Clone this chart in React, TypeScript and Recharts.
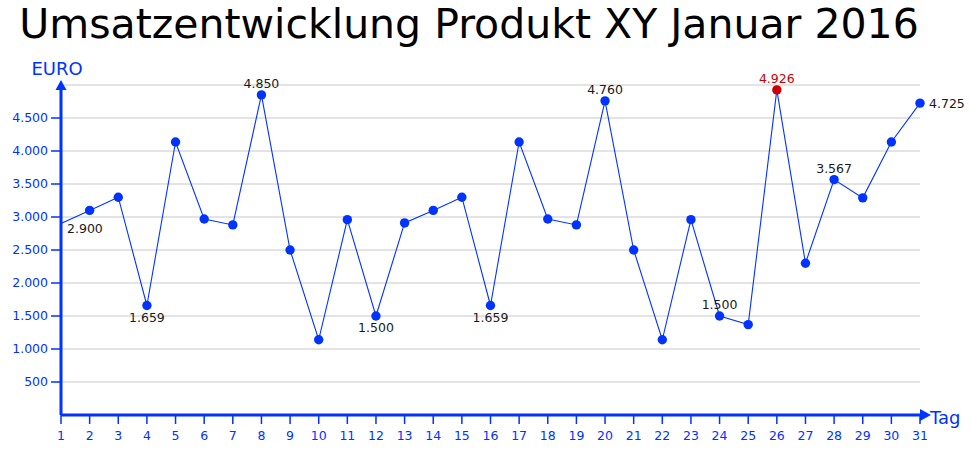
import React from 'react';
import { LineChart, Line, XAxis, YAxis, CartesianGrid, ReferenceDot, LabelList } from 'recharts';

const days = [1, 2, 3, 4, 5, 6, 7, 8, 9, 10, 11, 12, 13, 14, 15, 16, 17, 18, 19, 20, 21, 22, 23, 24, 25, 26, 27, 28, 29, 30, 31];
const revenue = [2900, 3100, 3300, 1659, 4136, 2970, 2880, 4850, 2500, 1140, 2960, 1500, 2910, 3100, 3300, 1659, 4136, 2970, 2880, 4760, 2500, 1140, 2960, 1500, 1370, 4926, 2300, 3567, 3290, 4136, 4725];
const yTicks = [500, 1000, 1500, 2000, 2500, 3000, 3500, 4000, 4500];
const labeledDays = [1, 4, 8, 12, 16, 20, 24, 26, 28, 31];
const highlightDay = 26;

const TITLE = 'Umsatzentwicklung Produkt XY Januar 2016';
const Y_TITLE = 'EURO';
const X_TITLE = 'Tag';

const BLUE = '#0033ff';
const RED = '#cc0000';
const FONT = '"DejaVu Sans", Verdana, sans-serif';

const labelPlacement: Record<number, string> = {
  1: 'belowRight', 4: 'below', 8: 'above', 12: 'below', 16: 'below',
  20: 'above', 24: 'above', 26: 'above', 28: 'above', 31: 'right',
};

const chartData = days.map((d, i) => ({ day: d, umsatz: revenue[i] }));

const fmt = (v: number) => String(v).replace(/\B(?=(\d{3})+(?!\d))/g, '.');

const renderDot = (p: any) => {
  const { cx, cy, payload, index } = p;
  if (index === 0) return <g key={`d${index}`} />;
  const fill = payload.day === highlightDay ? RED : BLUE;
  return <circle key={`d${index}`} cx={cx} cy={cy} r={4.7} fill={fill} stroke="none" />;
};

const renderLabel = (p: any) => {
  const { x, y, index } = p;
  const d = days[index];
  if (!labeledDays.includes(d)) return null;
  const place = labelPlacement[d];
  let tx = x, ty = y, anchor: any = 'middle';
  if (place === 'above') { ty = y - 7; }
  else if (place === 'below') { ty = y + 16; }
  else if (place === 'right') { tx = x + 9; ty = y + 4.5; anchor = 'start'; }
  else if (place === 'belowRight') { tx = x + 6; ty = y + 9.5; anchor = 'start'; }
  return (
    <text key={`l${index}`} x={tx} y={ty} textAnchor={anchor} fontSize={12.5} fontFamily={FONT}
      fill={d === highlightDay ? RED : '#1a1a1a'}>
      {fmt(revenue[index])}
    </text>
  );
};

export default function App() {
  return (
    <div style={{ position: 'absolute', left: 0, top: 0, width: 970, height: 450, background: '#fff' }}>
      <LineChart width={970} height={450} data={chartData}
        margin={{ top: 85, right: 50, bottom: 0, left: 0 }}>
        <CartesianGrid horizontal vertical={false} stroke="#c8c8c8" strokeWidth={1} />
        <XAxis type="number" dataKey="day" domain={[1, 31]} ticks={days} interval={0}
          height={35} tickSize={9} tickMargin={7}
          axisLine={{ stroke: BLUE, strokeWidth: 3 }}
          tickLine={{ stroke: BLUE, strokeWidth: 1.5 }}
          tick={{ fill: BLUE, fontSize: 12.5, fontFamily: FONT }} />
        <YAxis type="number" domain={[0, 5000]} ticks={yTicks} interval={0}
          width={61} tickSize={10} tickMargin={3}
          tickFormatter={fmt}
          axisLine={{ stroke: BLUE, strokeWidth: 3 }}
          tickLine={{ stroke: BLUE, strokeWidth: 1.5 }}
          tick={{ fill: BLUE, fontSize: 12.5, fontFamily: FONT }} />
        <Line type="linear" dataKey="umsatz" stroke={BLUE} strokeWidth={1.1}
          dot={renderDot} activeDot={false} isAnimationActive={false}>
          <LabelList dataKey="umsatz" content={renderLabel} />
        </Line>
        <ReferenceDot x={1} y={5000} ifOverflow="visible"
          shape={(p: any) => (
            <polygon points={`${p.cx - 5.5},${p.cy + 5} ${p.cx + 5.5},${p.cy + 5} ${p.cx},${p.cy - 5}`} fill={BLUE} />
          )} />
        <ReferenceDot x={31} y={0} ifOverflow="visible"
          shape={(p: any) => (
            <polygon points={`${p.cx},${p.cy - 6} ${p.cx},${p.cy + 6} ${p.cx + 11},${p.cy}`} fill={BLUE} />
          )} />
      </LineChart>
      <svg width={970} height={450} style={{ position: 'absolute', left: 0, top: 0, pointerEvents: 'none' }}>
        <text x={469} y={38} textAnchor="middle" fontSize={41} fontFamily={FONT} fill="#000">{TITLE}</text>
        <text x={57} y={75} textAnchor="middle" fontSize={18} fontFamily={FONT} fill={BLUE}>{Y_TITLE}</text>
        <text x={930} y={424} textAnchor="start" fontSize={18} fontFamily={FONT} fill={BLUE}>{X_TITLE}</text>
      </svg>
    </div>
  );
}
